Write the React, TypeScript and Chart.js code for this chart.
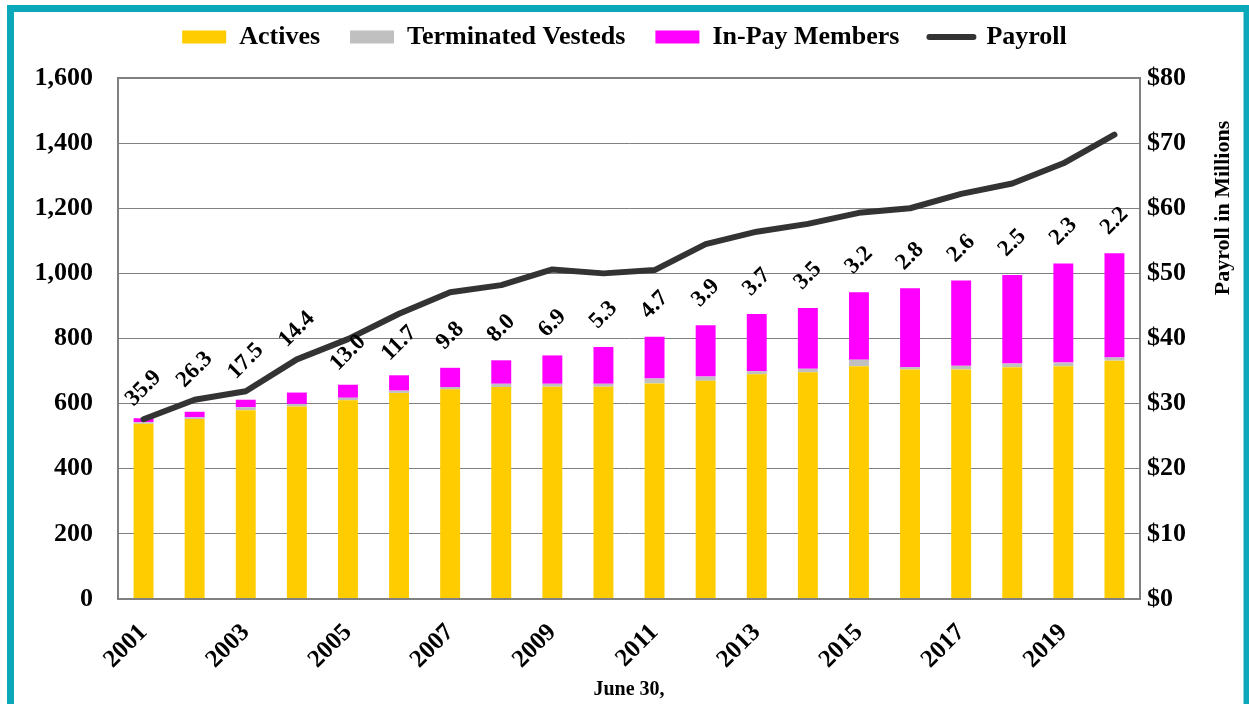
import React, { useEffect, useRef } from "react";
import { Chart, registerables } from "chart.js";

Chart.register(...registerables);

const years = ["2001","2002","2003","2004","2005","2006","2007","2008","2009","2010","2011","2012","2013","2014","2015","2016","2017","2018","2019","2020"];
const actives = [538, 553, 580, 591, 610, 633, 644, 651, 652, 652, 662, 670, 690, 696, 715, 705, 705, 712, 715, 732];
const terminatedVesteds = [5, 5, 9, 8, 8, 7, 7, 10, 9, 9, 15, 13, 10, 11, 20, 7, 11, 11, 11, 10];
const inPayMembers = [12, 17, 23, 35, 40, 47, 59, 72, 87, 113, 128, 158, 175, 187, 207, 242, 262, 272, 304, 320];
const payroll = [27.6, 30.6, 31.9, 36.8, 39.9, 43.8, 47.1, 48.2, 50.6, 50.0, 50.5, 54.5, 56.4, 57.6, 59.3, 60.0, 62.2, 63.8, 66.9, 71.3];
const ratioLabels = ["35.9","26.3","17.5","14.4","13.0","11.7","9.8","8.0","6.9","5.3","4.7","3.9","3.7","3.5","3.2","2.8","2.6","2.5","2.3","2.2"];

const FONT = "'Liberation Serif', 'Times New Roman', serif";
const GRID = "#808080";
const TEAL = "#0AA8B8";

export default function App() {
  const ref = useRef<HTMLCanvasElement | null>(null);

  useEffect(() => {
    const canvas = ref.current;
    if (!canvas) return;

    const legendHeight = {
      id: "legendHeight",
      beforeInit(chart: any) {
        const legend = chart.legend;
        if (!legend) return;
        const orig = legend.fit;
        legend.fit = function () {
          orig.call(this);
          this.height = 78;
        };
      },
      afterLayout(chart: any) {
        const legend = chart.legend;
        if (!legend) return;
        legend.top -= 6;
        legend.bottom -= 6;
      },
    };

    const decor = {
      id: "decor",
      beforeDraw(chart: any) {
        const { ctx, width, height } = chart;
        ctx.save();
        ctx.fillStyle = "#ffffff";
        ctx.fillRect(0, 0, width, height);
        ctx.restore();
      },
      afterDatasetsDraw(chart: any) {
        const { ctx, chartArea } = chart;
        ctx.save();
        ctx.strokeStyle = GRID;
        ctx.lineWidth = 2;
        ctx.strokeRect(chartArea.left, chartArea.top, chartArea.right - chartArea.left, chartArea.bottom - chartArea.top);
        const barMeta = chart.getDatasetMeta(2);
        const lineMeta = chart.getDatasetMeta(3);
        ctx.fillStyle = "#000";
        ctx.font = `bold 23px ${FONT}`;
        ctx.textAlign = "center";
        ctx.textBaseline = "middle";
        ratioLabels.forEach((t, i) => {
          const bar = barMeta.data[i];
          const pt = lineMeta.data[i];
          if (!bar || !pt) return;
          const barTop = bar.y;
          const lineY = pt.y;
          const y = barTop - lineY < 40 ? Math.min(barTop, lineY) - 30 : barTop - 32;
          ctx.save();
          ctx.translate(bar.x, y);
          ctx.rotate(-Math.PI / 4);
          ctx.fillText(t, 0, 0);
          ctx.restore();
        });
        ctx.restore();
      },
      afterDraw(chart: any) {
        const { ctx, chartArea, width, height } = chart;
        ctx.save();
        ctx.fillStyle = "#000";
        ctx.font = `bold 22px ${FONT}`;
        ctx.textAlign = "center";
        ctx.textBaseline = "middle";
        ctx.translate(chartArea.right + 83, chartArea.top + 130);
        ctx.rotate(-Math.PI / 2);
        ctx.fillText("Payroll in Millions", 0, 0);
        ctx.restore();
        ctx.save();
        ctx.strokeStyle = TEAL;
        ctx.lineWidth = 7;
        ctx.strokeRect(10.5, 8.5, width - 10.5 - 2, height);
        ctx.restore();
      },
    };

    const chart = new Chart(canvas, {
      type: "bar",
      data: {
        labels: years,
        datasets: [
          { type: "bar", label: "Actives", data: actives, backgroundColor: "#FFCC00", stack: "s", yAxisID: "y", order: 1 },
          { type: "bar", label: "Terminated Vesteds", data: terminatedVesteds, backgroundColor: "#C0C0C0", stack: "s", yAxisID: "y", order: 1 },
          { type: "bar", label: "In-Pay Members", data: inPayMembers, backgroundColor: "#FF00FF", stack: "s", yAxisID: "y", order: 1 },
          {
            type: "line", label: "Payroll", data: payroll, borderColor: "#333333", backgroundColor: "#333333",
            borderWidth: 6, pointRadius: 0, tension: 0, yAxisID: "y1", order: 0,
            borderCapStyle: "round", borderJoinStyle: "round",
          },
        ],
      } as any,
      options: {
        responsive: false,
        maintainAspectRatio: false,
        animation: false,
        devicePixelRatio: 1,
        layout: { padding: 0 },
        datasets: { bar: { categoryPercentage: 1, barPercentage: 0.39 } },
        plugins: {
          tooltip: { enabled: false },
          legend: {
            display: true,
            position: "top",
            labels: {
              usePointStyle: true,
              pointStyleWidth: 44,
              boxHeight: 13,
              padding: 30,
              color: "#000",
              font: { family: FONT, size: 26, weight: "bold" },
              generateLabels: (chart: any) =>
                chart.data.datasets.map((ds: any, i: number) => ({
                  text: ds.label,
                  fillStyle: ds.backgroundColor,
                  strokeStyle: ds.type === "line" ? ds.borderColor : ds.backgroundColor,
                  lineWidth: ds.type === "line" ? 6 : 0,
                  lineCap: "round",
                  pointStyle: ds.type === "line" ? "line" : "rect",
                  hidden: false,
                  datasetIndex: i,
                  fontColor: "#000",
                })),
            },
          },
        },
        scales: {
          x: {
            stacked: true,
            grid: { display: false, drawTicks: false },
            border: { display: true, color: GRID, width: 2 },
            ticks: {
              autoSkip: false,
              minRotation: 45,
              maxRotation: 45,
              padding: 19,
              color: "#000",
              font: { family: FONT, size: 25, weight: "bold" },
              callback: (_v: any, i: number) => (i % 2 === 0 ? years[i] : ""),
            },
            title: {
              display: true,
              text: "June 30,",
              color: "#000",
              font: { family: FONT, size: 20, weight: "bold" },
              padding: { top: 0, bottom: 2 },
            },
            afterFit: (s: any) => { s.height = 105; },
          },
          y: {
            stacked: true,
            position: "left",
            min: 0,
            max: 1600,
            grid: { color: GRID, lineWidth: 1, drawTicks: false },
            border: { display: true, color: GRID, width: 2 },
            ticks: {
              stepSize: 200,
              padding: 25,
              color: "#000",
              font: { family: FONT, size: 26, weight: "bold" },
              callback: (v: any) => Number(v).toLocaleString("en-US"),
            },
            afterFit: (s: any) => { s.width = 118; },
          },
          y1: {
            position: "right",
            min: 0,
            max: 80,
            grid: { drawOnChartArea: false, drawTicks: false },
            border: { display: true, color: GRID, width: 2 },
            ticks: {
              stepSize: 10,
              padding: 7,
              color: "#000",
              font: { family: FONT, size: 26, weight: "bold" },
              callback: (v: any) => "$" + v,
            },
            afterFit: (s: any) => { s.width = 109; },
          },
        },
      } as any,
      plugins: [legendHeight, decor],
    });

    return () => chart.destroy();
  }, []);

  return (
    <canvas
      ref={ref}
      width={1249}
      height={704}
      style={{ position: "fixed", left: 0, top: 0, width: 1249, height: 704, display: "block" }}
    />
  );
}
